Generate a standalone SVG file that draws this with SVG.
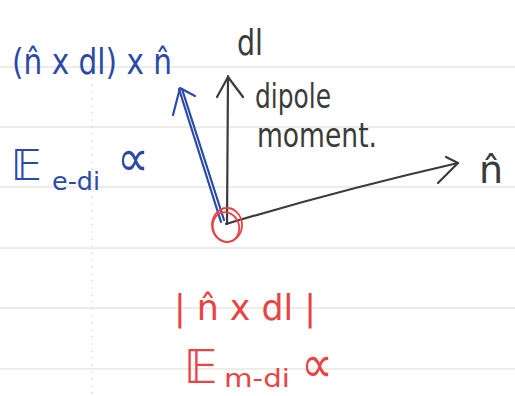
<svg xmlns="http://www.w3.org/2000/svg" width="515" height="396" viewBox="0 0 515 396">
<style>
.rule{stroke:#dadad2;stroke-width:1}
.margin{stroke:#d8d8d0;stroke-width:1;stroke-dasharray:2 5}
.ink{fill:none;stroke-linecap:round;stroke-linejoin:round}
.blk{stroke:#3b3b3b;stroke-width:2.2}
.blu{stroke:#2b4aa8;stroke-width:2.2}
.red{stroke:#e84444;stroke-width:1.8}
text{font-family:"DejaVu Sans","Liberation Sans",sans-serif;font-weight:normal}
.tb{fill:#2b4aa8}
.tk{fill:#3b3b3b}
.tr{fill:#e84444}
</style>
<rect width="515" height="396" fill="#ffffff"/>
<g id="paper">
<line class="rule" x1="0" y1="67" x2="515" y2="67"/>
<line class="rule" x1="0" y1="127" x2="515" y2="127"/>
<line class="rule" x1="0" y1="187" x2="515" y2="187"/>
<line class="rule" x1="0" y1="248" x2="515" y2="248"/>
<line class="rule" x1="0" y1="308" x2="515" y2="308"/>
<line class="rule" x1="0" y1="369" x2="515" y2="369"/>
<line class="margin" x1="92" y1="70" x2="92" y2="396"/>
</g>
<g id="connectors">
<path class="ink blk" d="M227 224 L228 76"/>
<path class="ink blk" d="M217 97 L228 77 L243 97"/>
<path class="ink blk" d="M226 224 Q340 190 458 163"/>
<path class="ink blk" d="M446 157 L458 163 L438 183"/>
<path class="ink blu" d="M221 222 L179 89"/>
<path class="ink blu" d="M224 220 L182 89"/>
<path class="ink blu" d="M173 115 L180 88 L195 96"/>
</g>
<g id="origin">
<ellipse class="ink red" cx="227" cy="225" rx="15" ry="17"/>
<ellipse class="ink red" cx="226" cy="227" rx="13" ry="15" transform="rotate(-20 226 227)"/>
</g>
<g id="label-blue-cross">
<text class="tb" x="12" y="74" font-size="36" textLength="160" lengthAdjust="spacingAndGlyphs">(n̂ x dl) x n̂</text>
</g>
<g id="label-dl">
<text class="tk" x="237" y="55" font-size="36" textLength="26" lengthAdjust="spacingAndGlyphs">dl</text>
</g>
<g id="label-dipole">
<text class="tk" x="255" y="108" font-size="34" textLength="76" lengthAdjust="spacingAndGlyphs">dipole</text>
<text class="tk" x="257" y="147" font-size="34" textLength="120" lengthAdjust="spacingAndGlyphs">moment.</text>
</g>
<g id="label-nhat">
<text class="tk" x="479" y="183" font-size="38">n̂</text>
</g>
<g id="label-E-e">
<text class="tb" x="11" y="180" font-size="42">𝔼</text>
<text class="tb" x="52" y="190" font-size="24" textLength="48" lengthAdjust="spacingAndGlyphs">e-di</text>
<text class="tb" x="117" y="176" font-size="52" textLength="32" lengthAdjust="spacingAndGlyphs">∝</text>
</g>
<g id="label-red-cross">
<text class="tr" x="174" y="320" font-size="36" textLength="142" lengthAdjust="spacingAndGlyphs">| n̂ x dl |</text>
</g>
<g id="label-E-m">
<text class="tr" x="184" y="383" font-size="46">𝔼</text>
<text class="tr" x="224" y="387" font-size="25" textLength="66" lengthAdjust="spacingAndGlyphs">m-di</text>
<text class="tr" x="301" y="382" font-size="52" textLength="32" lengthAdjust="spacingAndGlyphs">∝</text>
</g>
</svg>
